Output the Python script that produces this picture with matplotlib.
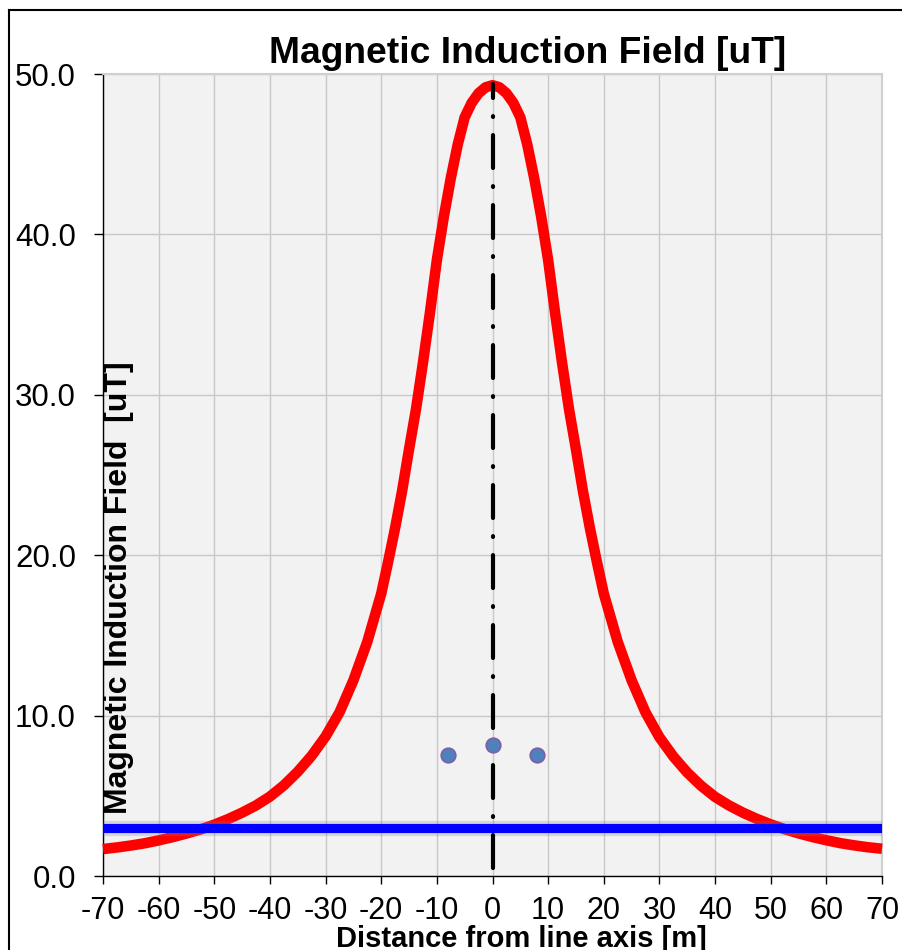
import matplotlib
matplotlib.use("Agg")
import matplotlib.pyplot as plt
from matplotlib.lines import Line2D

plt.rcParams['font.family'] = ['Liberation Sans', 'DejaVu Sans']
plt.rcParams['axes.unicode_minus'] = False

# field profile
distance = [-70, -67.5, -65, -62.5, -60, -57.5, -55, -52.5, -50, -47.5, -45, -42.5,
            -40, -37.5, -35, -32.5, -30, -27.5, -25, -22.5, -20, -18.75, -17.5,
            -16.25, -15, -13.75, -12.5, -11.25, -10, -8.75, -7.5, -6.25, -5,
            -3.75, -2.5, -1.25, 0, 1.25, 2.5, 3.75, 5, 6.25, 7.5, 8.75, 10,
            11.25, 12.5, 13.75, 15, 16.25, 17.5, 18.75, 20, 22.5, 25, 27.5, 30,
            32.5, 35, 37.5, 40, 42.5, 45, 47.5, 50, 52.5, 55, 57.5, 60, 62.5,
            65, 67.5, 70]
field = [1.68, 1.78, 1.9, 2.04, 2.22, 2.42, 2.65, 2.9, 3.2, 3.55, 3.95, 4.4,
         4.95, 5.65, 6.5, 7.5, 8.7, 10.2, 12.2, 14.6, 17.6, 19.6, 21.7,
         24.0, 26.6, 29.1, 32.0, 35.1, 38.4, 41.1, 43.5, 45.6, 47.3,
         48.2, 48.8, 49.17, 49.3, 49.17, 48.8, 48.2, 47.3, 45.6, 43.5, 41.1, 38.4,
         35.1, 32.0, 29.1, 26.6, 24.0, 21.7, 19.6, 17.6, 14.6, 12.2, 10.2, 8.65,
         7.45, 6.45, 5.62, 4.93, 4.4, 3.95, 3.56, 3.22, 2.92, 2.66, 2.43, 2.23, 2.05,
         1.91, 1.79, 1.7]

limit_x = [-70, 70]
limit_y = [3.0, 3.0]

axis_x = [0, 0]
axis_y = [0.5, 49.4]

cond_x = [-8, 0, 8]
cond_y = [7.55, 8.17, 7.55]

x_ticks = list(range(-70, 71, 10))
y_ticks = [0, 10, 20, 30, 40, 50]

fig = plt.figure(figsize=(9.02, 9.5), dpi=100)
ax = fig.add_axes([103/902, 1 - 876/950, 779/902, 802/950])
ax.set_facecolor('#F2F2F2')

ax.set_xlim(-70, 70)
ax.set_ylim(0, 50)
ax.set_xticks(x_ticks)
ax.set_yticks(y_ticks)
ax.set_xticklabels([str(t) for t in x_ticks])
ax.set_yticklabels([f"{t:.1f}" for t in y_ticks])
ax.tick_params(axis='y', labelsize=22.5, length=6.5, direction='out', pad=13, width=1)
ax.tick_params(axis='x', labelsize=22, length=6, direction='out', pad=8.5, width=1)
ax.grid(True, color='#C8C8C8', linewidth=1)
ax.set_axisbelow(True)

for s in ['top', 'right']:
    ax.spines[s].set_color('#D0D0D0')
    ax.spines[s].set_linewidth(1.5)
for s in ['left', 'bottom']:
    ax.spines[s].set_color('black')
    ax.spines[s].set_linewidth(1)

ax.plot(distance, field, color='#FF0000', linewidth=7.6, solid_capstyle='butt',
        solid_joinstyle='round', zorder=3, clip_on=False)

# limit line with soft shadow
ax.plot(limit_x, limit_y, color='#808080', linewidth=11, alpha=0.25, zorder=4,
        solid_capstyle='butt')
ax.plot(limit_x, limit_y, color='#0000FF', linewidth=6.6, zorder=4, solid_capstyle='butt')

ax.plot(axis_x, axis_y, color='black', linewidth=3, zorder=5,
        linestyle=(0, (7.9, 4.35, 0.2, 4.35)), dash_capstyle='round')

ax.plot(cond_x, cond_y, linestyle='none', marker='o', markersize=10.5,
        markerfacecolor='#4F81BD', markeredgecolor='#7E5EA5', markeredgewidth=1.2,
        zorder=6)

fig.text(528/902, 1 - 63/950, "Magnetic Induction Field [uT]", fontsize=26.8,
         fontweight='bold', ha='center', va='baseline')
ax.text(0.02, (875 - 587) / 802, "Magnetic Induction Field  [uT]", transform=ax.transAxes,
        rotation=90, fontsize=23, fontweight='bold', ha='center', va='center', zorder=7)
fig.text(521/902, 1 - 947/950, "Distance from line axis [m]", fontsize=21,
         fontweight='bold', ha='center', va='baseline')

# outer chart frame
fig.add_artist(Line2D([9/902, 1.0], [1 - 10/950, 1 - 10/950], color='black',
                      linewidth=1.5, transform=fig.transFigure))
fig.add_artist(Line2D([9/902, 9/902], [1 - 10/950, 0.0], color='black',
                      linewidth=1.5, transform=fig.transFigure))

fig.savefig("out.png", dpi=100)
